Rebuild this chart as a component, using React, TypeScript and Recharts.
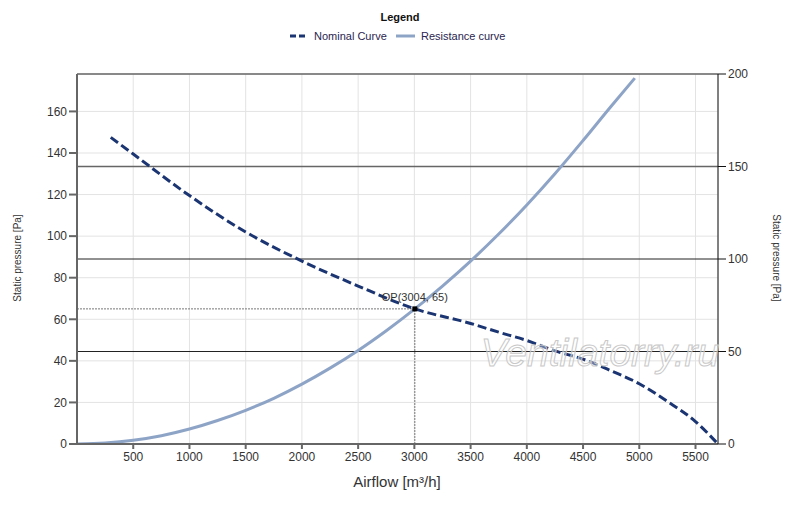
import React from 'react';
import {
  LineChart, Line, XAxis, YAxis, CartesianGrid, ReferenceLine, ReferenceDot, Legend, Label,
} from 'recharts';

// Nominal fan curve (airflow m³/h → static pressure Pa)
const nominalFlow = [300, 500, 1000, 1500, 2000, 2500, 3004, 3500, 3750, 4000, 4250, 4500, 4750, 5000, 5250, 5500, 5700];
const nominalPressure = [147.5, 139.5, 119.5, 102, 88, 76, 65, 58, 53.8, 49.8, 44.8, 40.8, 35.2, 29, 20.5, 10.8, 0];

// System resistance curve
const resistanceFlow = [0, 250, 500, 750, 1000, 1250, 1500, 1750, 2000, 2250, 2500, 2750, 3004, 3250, 3500, 3750, 4000, 4250, 4500, 4750, 4960];
const resistancePressure = [0, 0.5, 1.8, 4, 7.2, 11.3, 16.2, 22, 28.8, 36.5, 45, 54.5, 65, 76, 88, 101, 115, 130, 146, 162.5, 176];

// Operating point
const opFlow = 3004;
const opPressure = 65;

const xTicks = [500, 1000, 1500, 2000, 2500, 3000, 3500, 4000, 4500, 5000, 5500];
const leftTicks = [0, 20, 40, 60, 80, 100, 120, 140, 160];
const rightTicks = [0, 50, 100, 150, 200];
const rightLines = [50, 100, 150, 200];

const seriesNames = ['Nominal Curve', 'Resistance curve'];

const NAVY = '#1b3572';
const STEEL = '#8ea4c7';
const FONT = '"Liberation Sans", Arial, sans-serif';

const nominalData = nominalFlow.map((f, i) => ({ flow: f, p: nominalPressure[i] }));
const resistanceData = resistanceFlow.map((f, i) => ({ flow: f, p: resistancePressure[i] }));

const tickStyle = { fill: '#333', fontSize: 12, fontFamily: FONT };

function LegendBox() {
  return (
    <div style={{ width: 800, fontFamily: FONT, color: '#2a2550', fontSize: 11, position: 'relative', height: 40 }}>
      <div style={{ position: 'absolute', top: 11, left: 0, width: 800, textAlign: 'center', fontWeight: 700, color: '#111', fontSize: 11 }}>
        Legend
      </div>
      <svg width={800} height={20} style={{ position: 'absolute', top: 26, left: 0 }}>
        <line x1={290} x2={306} y1={10} y2={10} stroke={NAVY} strokeWidth={3} strokeDasharray="6 3" />
        <text x={314} y={14} fontSize={11} fill="#2a2550" fontFamily={FONT}>{seriesNames[0]}</text>
        <line x1={396} x2={415} y1={10} y2={10} stroke={STEEL} strokeWidth={3} />
        <text x={421} y={14} fontSize={11} fill="#2a2550" fontFamily={FONT}>{seriesNames[1]}</text>
      </svg>
    </div>
  );
}

export default function App() {
  return (
    <div style={{ position: 'absolute', left: 0, top: 0, width: 800, height: 507, background: '#fff' }}>
      <LineChart width={800} height={507} margin={{ top: 34, right: 0, bottom: 0, left: 0 }}>
        <CartesianGrid yAxisId="left" stroke="#e3e3e3" strokeWidth={1} />
        <XAxis
          dataKey="flow"
          type="number"
          domain={[0, 5700]}
          ticks={xTicks}
          allowDataOverflow
          height={63}
          stroke="#666"
          strokeWidth={2}
          tickSize={5}
          tickMargin={3}
          tick={tickStyle}
        >
          <Label
            content={() => (
              <text x={397} y={487} textAnchor="middle" fontSize={15} fill="#333" fontFamily={FONT}>Airflow [m³/h]</text>
            )}
          />
        </XAxis>
        <YAxis
          yAxisId="left"
          type="number"
          domain={[0, 178]}
          ticks={leftTicks}
          allowDataOverflow
          width={77}
          stroke="#666"
          strokeWidth={2}
          tickSize={8}
          tickMargin={2}
          tick={tickStyle}
        >
          <Label
            content={() => (
              <text x={21} y={258} transform="rotate(-90 21 258)" textAnchor="middle" fontSize={10} fill="#333" fontFamily={FONT}>Static pressure [Pa]</text>
            )}
          />
        </YAxis>
        <YAxis
          yAxisId="right"
          orientation="right"
          type="number"
          domain={[0, 200]}
          ticks={rightTicks}
          allowDataOverflow
          width={82}
          stroke="#111"
          strokeWidth={1}
          tickSize={8}
          tickMargin={2}
          tick={tickStyle}
        >
          <Label
            content={() => (
              <text x={773} y={258} transform="rotate(90 773 258)" textAnchor="middle" fontSize={10} fill="#333" fontFamily={FONT}>Static pressure [Pa]</text>
            )}
          />
        </YAxis>
        {rightLines.map((v) => (
          <ReferenceLine key={v} yAxisId="right" y={v} stroke={v >= 150 ? '#666' : '#222'} strokeWidth={v >= 150 ? 1.5 : 1} />
        ))}
        <ReferenceLine
          yAxisId="left"
          segment={[{ x: 0, y: opPressure }, { x: opFlow, y: opPressure }]}
          stroke="#777"
          strokeDasharray="2 1"
        />
        <ReferenceLine
          yAxisId="left"
          segment={[{ x: opFlow, y: 0 }, { x: opFlow, y: opPressure }]}
          stroke="#777"
          strokeDasharray="2 1"
        />
        <Line
          yAxisId="left"
          data={resistanceData}
          dataKey="p"
          name={seriesNames[1]}
          type="monotone"
          stroke={STEEL}
          strokeWidth={3}
          dot={false}
          isAnimationActive={false}
        />
        <Line
          yAxisId="left"
          data={nominalData}
          dataKey="p"
          name={seriesNames[0]}
          type="monotone"
          stroke={NAVY}
          strokeWidth={3}
          strokeDasharray="9 4"
          dot={false}
          isAnimationActive={false}
        />
        <ReferenceDot
          yAxisId="left"
          x={opFlow}
          y={opPressure}
          shape={(p: any) => (
            <g>
              <rect x={p.cx - 2.5} y={p.cy - 2.5} width={5} height={5} fill="#000" />
              <text x={p.cx} y={p.cy - 8} textAnchor="middle" fontSize={11} fill="#333" fontFamily={FONT}>
                {`OP(${opFlow}, ${opPressure})`}
              </text>
            </g>
          )}
        />
        <Legend verticalAlign="top" wrapperStyle={{ top: 0, left: 0, width: 800 }} content={() => <LegendBox />} />
      </LineChart>
      <svg width={800} height={507} style={{ position: 'absolute', left: 0, top: 0, pointerEvents: 'none' }}>
        <text
          x={600}
          y={366}
          textAnchor="middle"
          fontSize={39}
          fontStyle="italic"
          fontFamily={FONT}
          fill="rgba(255,255,255,0.35)"
          stroke="#c8c8c8"
          strokeWidth={1}
        >
          Ventilatorry.ru
        </text>
      </svg>
    </div>
  );
}
